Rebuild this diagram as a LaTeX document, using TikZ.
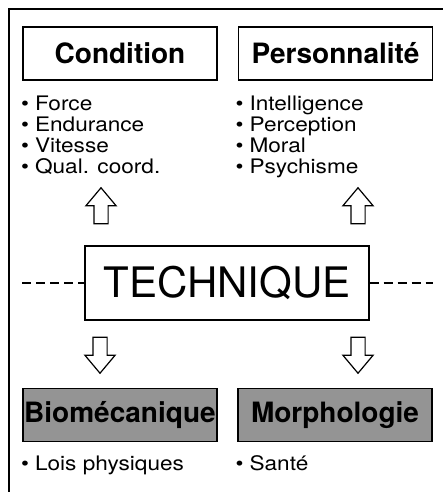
\documentclass[tikz,border=0pt]{standalone}
\usepackage{fontspec}
\setmainfont{TeX Gyre Heros}
\newfontfamily\wideface[FakeStretch=1.13]{TeX Gyre Heros}
\usepackage{xcolor}
\usepackage{tikz}
\usetikzlibrary{shapes.arrows}
\newcommand\listdot{{\fontsize{20}{20}\selectfont\textbullet}\hspace{6pt}}
\newcommand\listfont{\wideface\fontsize{20}{21}\selectfont\setlength\lineskiplimit{-30pt}\setlength\lineskip{0pt}}
\tikzset{
	title node/.style={draw,line width=1.2pt,minimum width=194pt,minimum height=53pt,
		inner sep=0pt,font=\fontsize{28}{28}\selectfont\bfseries},
	grey node/.style={title node,fill=black!42},
	item list/.style={anchor=north west,align=left,inner sep=0pt,font=\listfont},
	up arrow/.style={single arrow,draw,line width=1.2pt,shape border rotate=90,
		minimum height=36pt,inner sep=6.5pt,single arrow head extend=8pt,
		single arrow tip angle=80},
	down arrow/.style={up arrow,shape border rotate=270}
}

\begin{document}
\begin{tikzpicture}[x=1pt,y=-1pt]
	\useasboundingbox (0,0) rectangle (443,492);
	\draw[line width=1.5pt] (443,9) -- (9,9) -- (9,492);
	% top row
	\node [title node] (cond) at (120,53.5) {Condition};
	\node [title node] (pers) at (335.5,53.5) {Personnalité};
	\node [item list] (condlist) at (21,95.5) {\listdot Force\\ \listdot Endurance\\ \listdot Vitesse\\ \listdot Qual. coord.};
	\node [item list] (perslist) at (235.5,95.5) {\listdot Intelligence\\ \listdot Perception\\ \listdot Moral\\ \listdot Psychisme};
	% centre
	\node [draw,line width=1.2pt,minimum width=284pt,minimum height=74pt,inner sep=0pt,
		font=\fontsize{42}{42}\selectfont] (tech) at (227,283) {TECHNIQUE};
	\coordinate (dl) at (22,283);
	\coordinate (dr) at (433,283);
	\draw[line width=1.2pt,dash pattern=on 9pt off 5pt] (dl) -- (tech.west);
	\draw[line width=1.2pt,dash pattern=on 9pt off 5pt] (tech.east) -- (dr);
	\node [up arrow] (upl) at (101,210) {};
	\node [up arrow] (upr) at (358,210) {};
	\node [down arrow] (dnl) at (100,351) {};
	\node [down arrow] (dnr) at (358,351) {};
	% bottom row
	\node [grey node] (bio) at (120,415) {Biomécanique};
	\node [grey node] (morph) at (335,415) {Morphologie};
	\node [item list] (biolist) at (21,455.5) {\listdot Lois physiques};
	\node [item list] (morphlist) at (235.5,455.5) {\listdot Santé};
\end{tikzpicture}
\end{document}
